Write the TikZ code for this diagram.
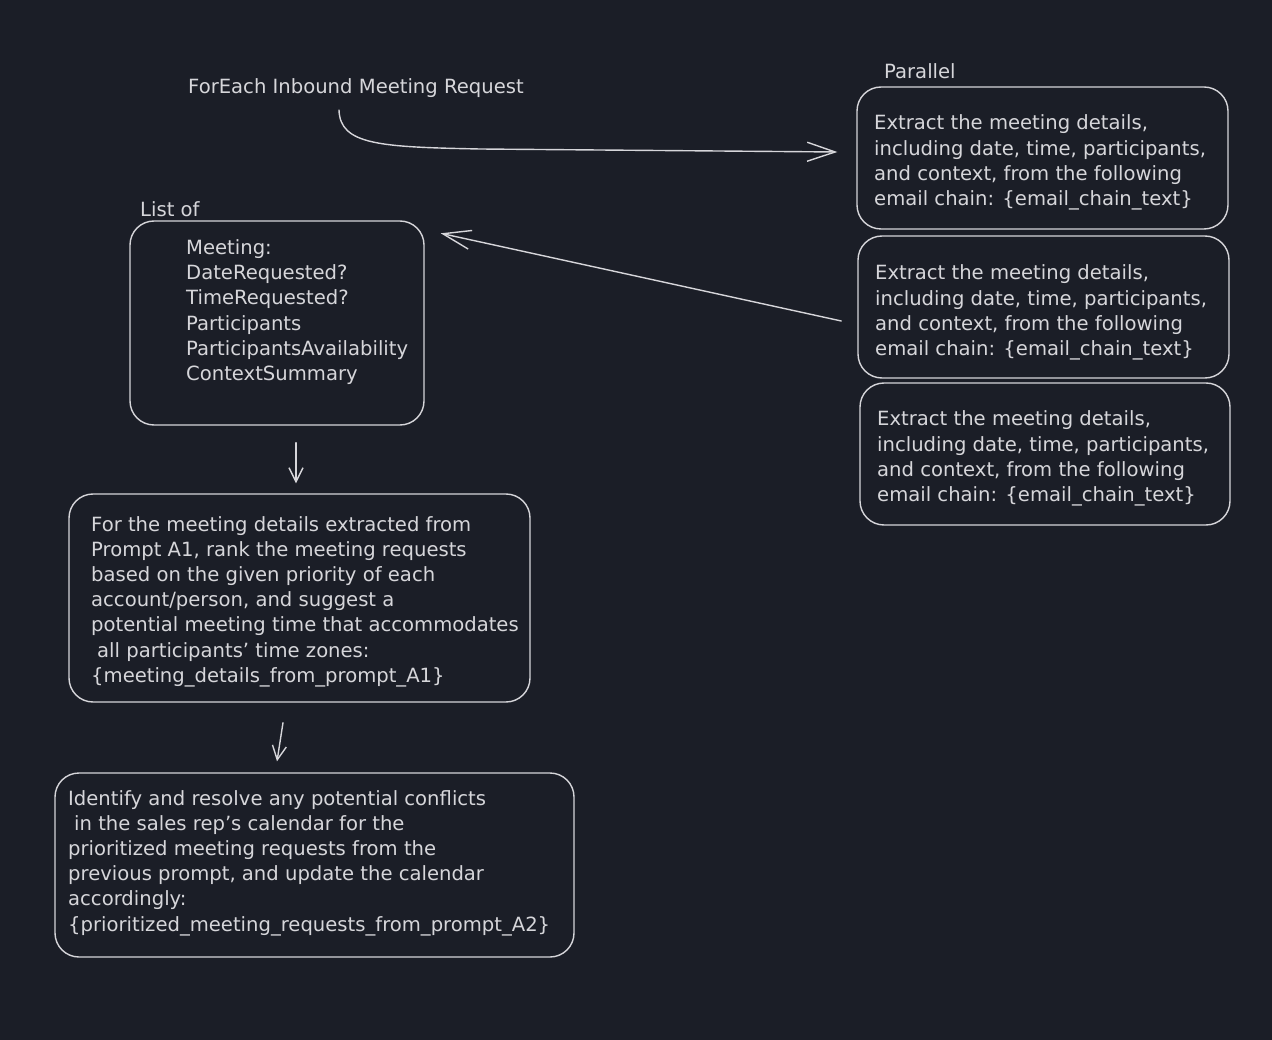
\documentclass[tikz,border=0pt]{standalone}
\usepackage{fontspec}
\setmainfont{DejaVu Sans}
\usetikzlibrary{arrows.meta}
\definecolor{bgdark}{RGB}{27,30,39}
\definecolor{inkgray}{RGB}{214,214,218}

\begin{document}
\begin{tikzpicture}[x=1pt,y=-1pt,
  box/.style={draw=inkgray,line width=1.4pt,rounded corners=24pt,inner sep=0pt},
  txt/.style={text=inkgray,font=\fontsize{19.6}{25.2}\selectfont,align=left,inner sep=0pt,anchor=west},
  arr/.style={draw=inkgray,line width=1.4pt,line cap=round}]
\fill[bgdark] (0,0) rectangle (1272,1040);
\useasboundingbox (0,0) rectangle (1272,1040);

% boxes
\node[box,minimum width=371pt,minimum height=142pt] (ext1) at (1042.5,158) {};
\node[box,minimum width=371pt,minimum height=142pt] (ext2) at (1043.5,307) {};
\node[box,minimum width=370pt,minimum height=142pt] (ext3) at (1045,454) {};
\node[box,minimum width=294pt,minimum height=204pt] (meetlist) at (277,323) {};
\node[box,minimum width=461pt,minimum height=208pt] (rank) at (299.5,598) {};
\node[box,minimum width=519pt,minimum height=184pt] (resolve) at (314.5,865) {};

% labels
\node[txt] (foreach) at (188,88) {ForEach Inbound Meeting Request};
\node[txt] (parallel) at (884,71) {Parallel};
\node[txt] (listof) at (140,209) {List of};

% texts
\node[txt] (ext1txt) at (874,162.5) {Extract the meeting details,\\including date, time, participants,\\and context, from the following\\email chain: \{email\_chain\_text\}};
\node[txt] (ext2txt) at (875,312.5) {Extract the meeting details,\\including date, time, participants,\\and context, from the following\\email chain: \{email\_chain\_text\}};
\node[txt] (ext3txt) at (877,458.5) {Extract the meeting details,\\including date, time, participants,\\and context, from the following\\email chain: \{email\_chain\_text\}};
\node[txt] (meettxt) at (186,312) {Meeting:\\DateRequested?\\TimeRequested?\\Participants\\ParticipantsAvailability\\ContextSummary};
\node[txt] (ranktxt) at (91,601.5) {For the meeting details extracted from\\Prompt A1, rank the meeting requests\\based on the given priority of each\\account/person, and suggest a\\potential meeting time that accommodates\\\hspace*{6pt}all participants' time zones:\\\{meeting\_details\_from\_prompt\_A1\}};
\node[txt] (resolvetxt) at (68,863) {Identify and resolve any potential conflicts\\\hspace*{6pt}in the sales rep's calendar for the\\prioritized meeting requests from the\\previous prompt, and update the calendar\\accordingly:\\\{prioritized\_meeting\_requests\_from\_prompt\_A2\}};

% arrows
\coordinate (loopstart) at (339,110);
\draw[arr,-{Straight Barb[length=28pt,width=19pt]}] (loopstart) .. controls (340,145) and (380,147) .. (480,149) -- ([xshift=-19pt,yshift=6pt]ext1.west);
\draw[arr,-{Straight Barb[length=28pt,width=19pt]}] ([xshift=-16pt,yshift=-14pt]ext2.west) -- ([xshift=16pt,yshift=-13pt]meetlist.north east);
\draw[arr,-{Straight Barb[length=14pt,width=14pt]}] ([xshift=19pt,yshift=-17pt]meetlist.south) -- ([xshift=-3.5pt,yshift=10pt]rank.north);
\draw[arr,-{Straight Barb[length=14pt,width=14pt]}] ([xshift=-16.5pt,yshift=-20pt]rank.south) -- ([xshift=-37.5pt,yshift=11pt]resolve.north);
\end{tikzpicture}
\end{document}
